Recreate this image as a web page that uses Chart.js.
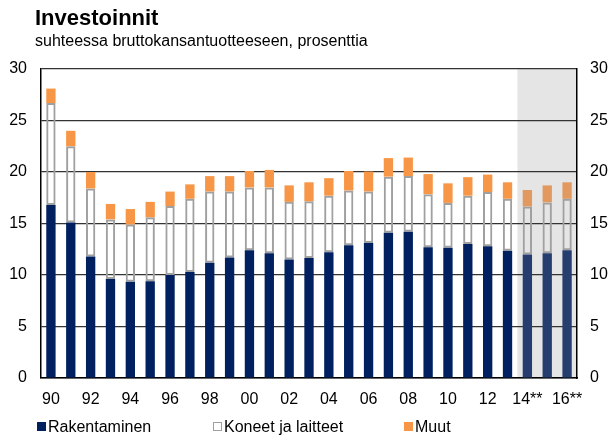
<!DOCTYPE html>
<html>
<head>
<meta charset="utf-8">
<script src="https://cdn.jsdelivr.net/npm/chart.js@4"></script>
<style>
    body { margin: 0; background: #fff; font-family: "Liberation Sans", Arial, sans-serif; }
    #wrap { position: relative; width: 608px; height: 436px; overflow: hidden; }
    #chart { position: absolute; left: 0; top: 0; }
    .title { position: absolute; left: 35px; top: 5px; font-size: 22px; font-weight: bold; color: #000; }
    .subtitle { position: absolute; left: 35px; top: 32px; font-size: 16px; color: #000; }
    .legend { position: absolute; top: 418px; font-size: 16px; line-height: 18px; color: #000; white-space: nowrap; }
    .legend span.box { display: inline-block; width: 9px; height: 9px; margin-right: 2px; vertical-align: 1px; box-sizing: border-box; }
</style>
</head>
<body>
<div id="wrap">
    <canvas id="chart" width="608" height="436"></canvas>
    <div class="title">Investoinnit</div>
    <div class="subtitle">suhteessa bruttokansantuotteeseen, prosenttia</div>
    <div class="legend" style="left:37px"><span class="box" style="background:#002060"></span>Rakentaminen</div>
    <div class="legend" style="left:213px"><span class="box" style="background:#fff;border:1px solid #a0a0a0"></span>Koneet ja laitteet</div>
    <div class="legend" style="left:404px"><span class="box" style="background:#f79646"></span>Muut</div>
</div>
<script>
// Years 1990-2016, 14-16 are forecasts
const years = ['90', '91', '92', '93', '94', '95', '96', '97', '98', '99', '00', '01', '02', '03',
    '04', '05', '06', '07', '08', '09', '10', '11', '12', '13', '14**', '15**', '16**'];

// Share of GDP, %
const rakentaminen = [16.8, 15.1, 11.8, 9.6, 9.35, 9.4, 10.0, 10.3, 11.2, 11.7, 12.4, 12.1, 11.5, 11.65,
    12.2, 12.9, 13.1, 14.1, 14.2, 12.7, 12.65, 13.0, 12.8, 12.35, 12.0, 12.1, 12.4];
const koneet = [9.9, 7.4, 6.6, 5.8, 5.55, 6.2, 6.7, 7.1, 6.9, 6.4, 6.1, 6.4, 5.6, 5.5,
    5.5, 5.3, 5.0, 5.45, 5.4, 5.15, 4.35, 4.7, 5.25, 5.05, 4.65, 4.95, 5.0];
const muut = [1.4, 1.5, 1.6, 1.5, 1.5, 1.5, 1.4, 1.4, 1.5, 1.5, 1.6, 1.7, 1.6, 1.85,
    1.7, 1.9, 1.95, 1.8, 1.8, 1.95, 1.9, 1.8, 1.7, 1.6, 1.6, 1.65, 1.6];

const forecastStart = 24; // index of 2014

const navy = years.map((y, i) => i >= forecastStart ? '#263d6f' : '#002060');
const orange = years.map((y, i) => i >= forecastStart ? '#e1995f' : '#f79646');

// gray background behind forecast years
const shadePlugin = {
    id: 'shade',
    beforeDraw(chart) {
        const { ctx, chartArea, scales } = chart;
        const x0 = (scales.x.getPixelForValue(forecastStart - 1) + scales.x.getPixelForValue(forecastStart)) / 2;
        ctx.save();
        ctx.fillStyle = '#e5e5e5';
        ctx.fillRect(x0, chartArea.top, chartArea.right - x0, chartArea.bottom - chartArea.top);
        ctx.restore();
    }
};

Chart.defaults.font.family = '"Liberation Sans", Arial, sans-serif';
Chart.defaults.font.size = 16;
Chart.defaults.color = '#000';

new Chart(document.getElementById('chart'), {
    type: 'bar',
    data: {
        labels: years,
        datasets: [
            {
                label: 'Rakentaminen',
                data: rakentaminen,
                backgroundColor: navy,
                borderWidth: 0
            },
            {
                label: 'Koneet ja laitteet',
                data: koneet,
                backgroundColor: 'rgba(255,255,255,0)',
                borderColor: '#a0a0a0',
                borderWidth: 2,
                borderSkipped: false
            },
            {
                label: 'Muut',
                data: muut,
                backgroundColor: orange,
                borderWidth: 0
            }
        ]
    },
    options: {
        responsive: false,
        animation: false,
        layout: { padding: { left: 0, right: 0, top: 69, bottom: 28 } },
        datasets: { bar: { categoryPercentage: 1, barPercentage: 0.47 } },
        plugins: {
            legend: { display: false },
            tooltip: { enabled: false }
        },
        scales: {
            x: {
                stacked: true,
                grid: { display: false },
                border: { display: true, color: '#000', width: 1.5 },
                ticks: {
                    autoSkip: false,
                    maxRotation: 0,
                    padding: 4,
                    callback: function (val, i) { return i % 2 === 0 ? this.getLabelForValue(val) : ''; }
                },
                afterFit(scale) { scale.height = 30; }
            },
            y: {
                stacked: true,
                position: 'left',
                min: 0,
                max: 30,
                ticks: { stepSize: 5, padding: 14 },
                grid: { color: '#333', lineWidth: 1.2, drawTicks: false },
                border: { display: true, color: '#000', width: 1.5 },
                afterFit(scale) { scale.width = 41; }
            },
            y2: {
                position: 'right',
                min: 0,
                max: 30,
                ticks: { stepSize: 5, padding: 13 },
                grid: { display: false, drawTicks: false },
                border: { display: true, color: '#000', width: 1.5 },
                afterFit(scale) { scale.width = 31; }
            }
        }
    },
    plugins: [shadePlugin]
});
</script>
</body>
</html>
